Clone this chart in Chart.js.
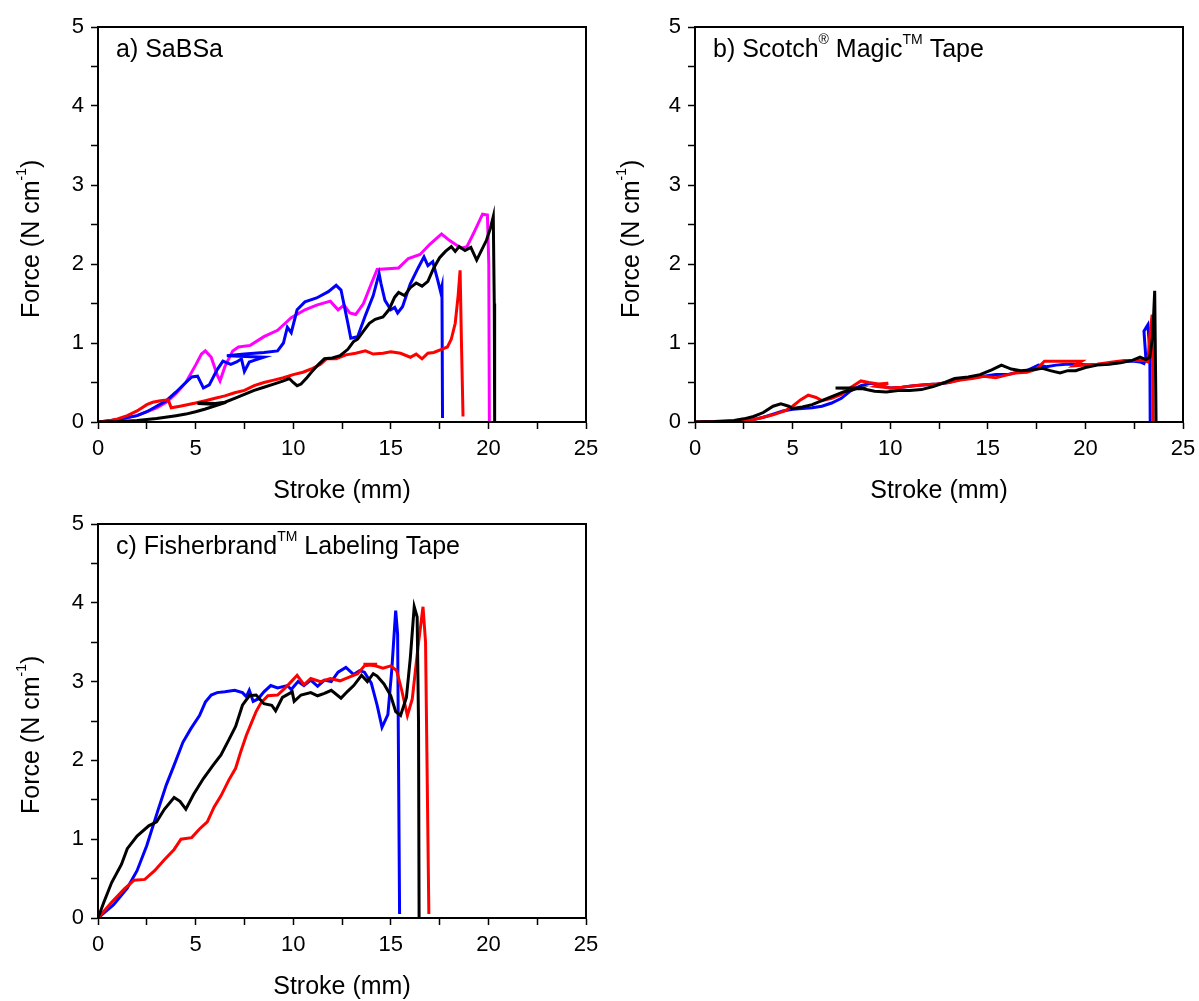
<!DOCTYPE html>
<html><head><meta charset="utf-8">
<script src="https://cdn.jsdelivr.net/npm/chart.js@4.4.0/dist/chart.umd.min.js"></script>
<style>
html,body{margin:0;padding:0;background:#fff;}
body{width:1199px;height:1001px;position:relative;overflow:hidden;}
canvas{position:absolute;}
</style></head><body>
<canvas id="ca" width="600" height="505" style="left:0;top:0;width:600px;height:505px"></canvas>
<canvas id="cb" width="599" height="505" style="left:600px;top:0;width:599px;height:505px"></canvas>
<canvas id="cc" width="600" height="504" style="left:0;top:497px;width:600px;height:504px"></canvas>
<script>
// ---------- tick labels ----------
const xTickLabels = ['0','5','10','15','20','25'];
const yTickLabels = ['0','1','2','3','4','5'];

// ---------- panel texts ----------
const titleA = [{t:'a) SaBSa'}];
const titleB = [{t:'b) Scotch'},{t:'\u00AE',sup:true},{t:' Magic'},{t:'TM',sup:true},{t:' Tape'}];
const titleC = [{t:'c) Fisherbrand'},{t:'TM',sup:true},{t:' Labeling Tape'}];
const xAxisTitle = [{t:'Stroke (mm)'}];
const yAxisTitle = [{t:'Force (N cm'},{t:'-1',sup:true},{t:')'}];

// ---------- panel a: SaBSa  [stroke (mm), force (N/cm)] ----------
const aBlack = [[0,0],[1,0.005],[2,0.02],[3,0.045],[4,0.08],[4.5,0.1],[5,0.13],[5.5,0.165],[6.2,0.22],[5.1,0.235],[5.3,0.24],[6.0,0.235],[6.5,0.25],[7,0.3],[7.5,0.35],[8,0.4],[8.5,0.44],[9,0.48],[9.5,0.52],[9.8,0.55],[10.0,0.5],[10.2,0.46],[10.4,0.48],[10.7,0.56],[11,0.65],[11.3,0.73],[11.6,0.8],[12,0.81],[12.4,0.84],[12.8,0.92],[13.1,1.02],[13.3,1.05],[13.6,1.15],[13.9,1.25],[14.2,1.3],[14.6,1.33],[14.9,1.42],[15.2,1.58],[15.4,1.64],[15.7,1.6],[16.0,1.7],[16.3,1.76],[16.6,1.72],[16.9,1.78],[17.2,1.95],[17.5,2.08],[17.8,2.16],[18.1,2.22],[18.3,2.16],[18.5,2.22],[18.8,2.17],[19.1,2.21],[19.4,2.05],[19.6,2.15],[19.9,2.3],[20.1,2.45],[20.25,2.6],[20.3,1.5],[20.32,0]];
const aRed = [[0,0],[0.5,0.01],[1,0.04],[1.5,0.08],[2,0.14],[2.5,0.22],[2.8,0.25],[3.2,0.27],[3.6,0.28],[3.75,0.18],[4.2,0.2],[5,0.24],[5.5,0.27],[6,0.3],[6.5,0.33],[7,0.37],[7.5,0.4],[8,0.46],[8.5,0.5],[9,0.53],[9.5,0.56],[10,0.6],[10.5,0.63],[11,0.68],[11.4,0.73],[11.7,0.8],[12.2,0.8],[12.7,0.85],[13.2,0.87],[13.7,0.9],[14.1,0.86],[14.6,0.87],[15,0.89],[15.5,0.87],[16,0.82],[16.3,0.86],[16.6,0.8],[16.9,0.87],[17.2,0.88],[17.6,0.92],[17.9,0.95],[18.1,1.05],[18.3,1.25],[18.45,1.6],[18.55,1.92],[18.62,1.0],[18.7,0.07]];
const aBlue = [[0,0],[1,0.03],[2,0.08],[2.5,0.13],[3,0.2],[3.5,0.27],[4,0.38],[4.5,0.5],[4.8,0.57],[5.1,0.58],[5.4,0.43],[5.7,0.47],[6.1,0.66],[6.4,0.77],[6.8,0.73],[7.1,0.76],[7.35,0.8],[7.5,0.64],[7.75,0.76],[8.0,0.78],[8.5,0.82],[6.6,0.84],[7.5,0.86],[8.5,0.88],[9.2,0.9],[9.5,1.0],[9.7,1.2],[9.9,1.13],[10.2,1.42],[10.6,1.52],[11.2,1.57],[11.8,1.65],[12.2,1.73],[12.45,1.67],[12.8,1.25],[12.95,1.06],[13.3,1.08],[13.7,1.35],[14.1,1.6],[14.4,1.88],[14.5,1.75],[14.7,1.54],[15.0,1.42],[15.2,1.45],[15.35,1.38],[15.6,1.46],[16.0,1.75],[16.4,1.95],[16.7,2.09],[16.9,1.98],[17.15,2.03],[17.4,1.8],[17.55,1.65],[17.62,1.72],[17.65,0.05]];
const aMagenta = [[0,0],[1,0.03],[2,0.08],[3,0.18],[3.5,0.25],[4,0.36],[4.5,0.5],[5.0,0.72],[5.3,0.86],[5.5,0.9],[5.8,0.82],[6.1,0.6],[6.25,0.52],[6.5,0.7],[6.9,0.9],[7.2,0.95],[7.8,0.97],[8.5,1.08],[9.2,1.16],[9.9,1.32],[10.6,1.42],[11.2,1.48],[11.9,1.53],[12.3,1.42],[12.6,1.48],[12.9,1.38],[13.2,1.36],[13.6,1.5],[14.0,1.75],[14.3,1.93],[15.4,1.95],[15.9,2.07],[16.5,2.12],[17.0,2.25],[17.6,2.38],[18.0,2.3],[18.6,2.2],[18.9,2.22],[19.3,2.42],[19.7,2.63],[19.95,2.62],[20.02,2.0],[20.05,0]];

// ---------- panel b: Scotch Magic Tape ----------
const bBlack = [[0,0],[1,0.005],[2,0.02],[2.5,0.04],[3,0.07],[3.5,0.12],[4.0,0.2],[4.4,0.23],[4.8,0.2],[5.0,0.17],[5.5,0.19],[6,0.22],[6.5,0.27],[7,0.32],[7.6,0.38],[8,0.4],[8.4,0.43],[7.2,0.43],[8.6,0.42],[9.2,0.39],[9.8,0.38],[10.4,0.4],[11,0.4],[11.6,0.41],[12.2,0.45],[12.8,0.5],[13.3,0.55],[14,0.57],[14.6,0.6],[15.2,0.66],[15.7,0.72],[16.2,0.67],[16.7,0.65],[17.3,0.66],[17.8,0.68],[18.2,0.65],[18.7,0.62],[19.1,0.65],[19.5,0.65],[20,0.69],[20.6,0.72],[21.2,0.73],[21.8,0.75],[22.4,0.78],[22.8,0.82],[23.1,0.79],[23.3,0.82],[23.45,1.1],[23.55,1.66],[23.6,0.5],[23.62,0]];
const bRed = [[0,0],[1,0.003],[2,0.01],[3,0.03],[3.5,0.06],[4,0.09],[4.6,0.14],[5.0,0.2],[5.4,0.28],[5.8,0.34],[6.2,0.31],[6.5,0.27],[7,0.3],[7.5,0.35],[8,0.44],[8.5,0.52],[8.9,0.5],[9.4,0.48],[9.9,0.49],[9.3,0.45],[10,0.43],[10.6,0.44],[11.2,0.46],[11.8,0.47],[12.4,0.48],[13,0.5],[13.6,0.53],[14.2,0.55],[14.8,0.58],[15.4,0.56],[15.9,0.59],[16.4,0.62],[17,0.63],[17.5,0.67],[17.9,0.77],[18.6,0.77],[19.8,0.77],[19.4,0.71],[20,0.72],[20.6,0.73],[21.4,0.76],[22,0.78],[22.6,0.78],[23.0,0.78],[23.2,0.76],[23.3,1.1],[23.42,1.36],[23.47,0]];
const bBlue = [[0,0],[1,0.003],[2,0.01],[3,0.03],[3.5,0.06],[4,0.1],[4.5,0.14],[5,0.16],[5.5,0.17],[6,0.18],[6.5,0.2],[7,0.24],[7.5,0.3],[8,0.4],[8.5,0.46],[9.0,0.49],[9.5,0.46],[10,0.43],[10.6,0.44],[11.2,0.46],[11.8,0.47],[12.4,0.48],[13,0.5],[13.6,0.54],[14.2,0.56],[14.8,0.58],[15.4,0.6],[16,0.6],[16.5,0.63],[17,0.65],[17.6,0.72],[18,0.7],[18.5,0.72],[19,0.73],[19.6,0.73],[20.2,0.72],[20.8,0.73],[21.4,0.74],[22,0.77],[22.5,0.77],[22.8,0.76],[23.0,0.74],[23.1,0.8],[23.0,1.15],[23.2,1.23],[23.3,0.9],[23.32,0]];

// ---------- panel c: Fisherbrand Labeling Tape ----------
const cBlack = [[0,0],[0.3,0.2],[0.7,0.45],[1.2,0.68],[1.5,0.88],[2.0,1.04],[2.6,1.17],[3.0,1.22],[3.4,1.38],[3.9,1.53],[4.2,1.48],[4.5,1.38],[4.9,1.57],[5.4,1.77],[5.9,1.94],[6.3,2.07],[6.7,2.26],[7.05,2.43],[7.4,2.7],[7.75,2.82],[8.1,2.83],[8.5,2.72],[8.9,2.7],[9.1,2.63],[9.45,2.8],[9.95,2.87],[10.05,2.75],[10.4,2.83],[10.9,2.86],[11.25,2.82],[11.6,2.85],[11.95,2.89],[12.45,2.79],[12.8,2.88],[13.1,2.95],[13.5,3.08],[13.8,3.0],[14.1,3.1],[14.3,3.07],[14.65,2.97],[15.0,2.82],[15.25,2.62],[15.5,2.57],[15.8,2.8],[16.0,3.3],[16.2,3.95],[16.35,3.82],[16.42,2.5],[16.45,0]];
const cRed = [[0,0],[0.7,0.2],[1.35,0.37],[1.85,0.48],[2.4,0.49],[2.9,0.6],[3.4,0.74],[3.9,0.87],[4.25,1.0],[4.8,1.02],[5.2,1.13],[5.6,1.22],[5.95,1.41],[6.3,1.55],[6.7,1.75],[7.05,1.9],[7.3,2.1],[7.6,2.32],[7.85,2.47],[8.1,2.62],[8.35,2.73],[8.7,2.82],[9.2,2.83],[9.55,2.91],[9.9,3.0],[10.2,3.08],[10.55,2.96],[10.9,3.04],[11.4,3.0],[11.9,3.04],[12.4,3.01],[12.9,3.06],[13.3,3.1],[13.65,3.2],[14.3,3.22],[13.6,3.22],[14.2,3.2],[14.6,3.17],[15.0,3.2],[15.3,3.14],[15.55,2.9],[15.85,2.57],[16.1,2.78],[16.4,3.45],[16.65,3.95],[16.78,3.5],[16.95,0.05]];
const cBlue = [[0,0],[0.8,0.17],[1.5,0.38],[2.0,0.6],[2.5,0.92],[3.05,1.35],[3.5,1.69],[3.9,1.94],[4.35,2.23],[4.75,2.4],[5.2,2.57],[5.5,2.74],[5.8,2.83],[6.1,2.86],[6.5,2.87],[7.0,2.89],[7.4,2.86],[7.6,2.81],[7.75,2.89],[7.95,2.75],[8.2,2.78],[8.5,2.87],[8.85,2.95],[9.2,2.92],[9.7,2.95],[9.9,2.9],[10.25,3.0],[10.55,2.95],[10.9,3.02],[11.25,2.94],[11.6,3.02],[11.95,3.0],[12.3,3.12],[12.7,3.18],[13.1,3.09],[13.4,3.14],[13.65,3.12],[14.0,2.98],[14.3,2.7],[14.55,2.42],[14.85,2.58],[15.05,3.15],[15.25,3.9],[15.35,3.6],[15.45,0.05]];

const FONT = "'Liberation Sans', Arial, Helvetica, sans-serif";
const COLORS = {black:'#000000', red:'#ff0000', blue:'#0000ff', magenta:'#ff00ff'};

function drawRich(ctx, segs, x, y, size, align) {
  const supSize = Math.round(size * 0.58);
  const raise = size * 0.5;
  let total = 0;
  segs.forEach(s => { ctx.font = (s.sup ? supSize : size) + 'px ' + FONT; total += ctx.measureText(s.t).width; });
  let cx = align === 'center' ? x - total / 2 : x;
  segs.forEach(s => {
    ctx.font = (s.sup ? supSize : size) + 'px ' + FONT;
    ctx.fillText(s.t, cx, s.sup ? y - raise : y);
    cx += ctx.measureText(s.t).width;
  });
}

const framePlugin = {
  id: 'frame',
  afterDatasetsDraw(chart) {
    const a = chart.chartArea, ctx = chart.ctx;
    ctx.save();
    ctx.strokeStyle = '#000'; ctx.lineWidth = 2;
    ctx.strokeRect(a.left, a.top, a.right - a.left, a.bottom - a.top);
    ctx.restore();
  },
  afterDraw(chart, args, opts) {
    const a = chart.chartArea, ctx = chart.ctx;
    ctx.save();
    ctx.fillStyle = '#000'; ctx.textBaseline = 'alphabetic'; ctx.textAlign = 'left';
    drawRich(ctx, opts.title, a.left + 18, a.top + 29.5, 25, 'left');
    drawRich(ctx, xAxisTitle, (a.left + a.right) / 2, a.bottom + 76, 25, 'center');
    ctx.translate(38.5, a.bottom - 104);
    ctx.rotate(-Math.PI / 2);
    drawRich(ctx, yAxisTitle, 0, 0, 25, 'left');
    ctx.restore();
  }
};

function makeChart(id, series, title, cfg) {
  const datasets = series.map(s => ({
    data: s.pts.map(p => ({x: p[0], y: p[1]})),
    borderColor: s.color, backgroundColor: s.color,
    borderWidth: 3, pointRadius: 0, tension: 0, fill: false, showLine: true
  }));
  const tickFont = {family: FONT, size: 22};
  const gridCfg = {drawOnChartArea: false, drawTicks: true, tickLength: 7, tickColor: '#000', tickWidth: 1.5};
  return new Chart(document.getElementById(id), {
    type: 'scatter',
    data: {datasets},
    options: {
      responsive: false, animation: false, devicePixelRatio: 1,
      layout: {padding: {top: cfg.padTop, right: cfg.padRight, left: 0, bottom: 0}},
      plugins: {legend: {display: false}, tooltip: {enabled: false}, frame: {title}},
      scales: {
        x: {
          type: 'linear', min: 0, max: 25,
          afterFit: s => { s.height = cfg.xH; s.paddingLeft = 0; s.paddingRight = 0; },
          ticks: {stepSize: 2.5, autoSkip: false, maxRotation: 0, minRotation: 0, color: '#000', font: tickFont, padding: 7,
            callback: v => { const r = Math.round(v); return (Math.abs(v - r) < 1e-6 && r % 5 === 0) ? xTickLabels[r / 5] : ''; }},
          grid: gridCfg,
          border: {display: true, color: '#000', width: 2}
        },
        y: {
          type: 'linear', min: 0, max: 5,
          afterFit: s => { s.width = cfg.yW; s.paddingTop = 0; s.paddingBottom = 0; },
          ticks: {stepSize: 0.5, autoSkip: false, color: '#000', font: tickFont, padding: 7,
            callback: v => { const r = Math.round(v); return Math.abs(v - r) < 1e-6 ? yTickLabels[r] : ''; }},
          grid: gridCfg,
          border: {display: true, color: '#000', width: 2}
        }
      }
    },
    plugins: [framePlugin]
  });
}

makeChart('ca', [
  {pts: aBlack, color: COLORS.black},
  {pts: aRed, color: COLORS.red},
  {pts: aBlue, color: COLORS.blue},
  {pts: aMagenta, color: COLORS.magenta}
], titleA, {padTop: 27, padRight: 14, xH: 83, yW: 98});

makeChart('cb', [
  {pts: bBlack, color: COLORS.black},
  {pts: bRed, color: COLORS.red},
  {pts: bBlue, color: COLORS.blue}
], titleB, {padTop: 27, padRight: 16, xH: 83, yW: 95});

makeChart('cc', [
  {pts: cBlack, color: COLORS.black},
  {pts: cRed, color: COLORS.red},
  {pts: cBlue, color: COLORS.blue}
], titleC, {padTop: 27, padRight: 14, xH: 83, yW: 98});
</script>
</body></html>
